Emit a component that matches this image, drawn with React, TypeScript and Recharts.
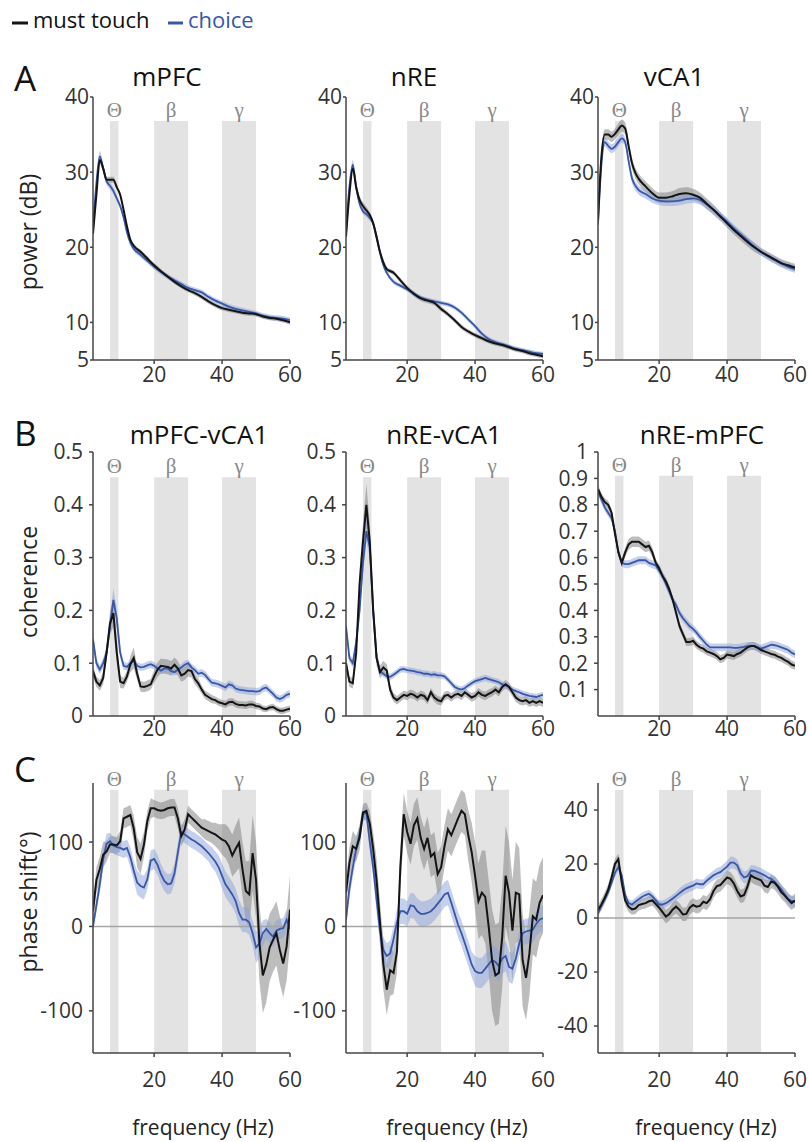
import React from 'react';
import {
  ComposedChart,
  Line,
  Area,
  XAxis,
  YAxis,
  ReferenceArea,
  ReferenceLine,
} from 'recharts';

const FONT = '"Open Sans", "Noto Sans", sans-serif';
const SERIF = '"Liberation Serif", "DejaVu Serif", serif';
const BLACK = '#141414';
const BLUE = '#3a56a6';
const AXIS = '#444';

// frequency grids (Hz)
const freqA = [
  2, 3, 4, 5, 6, 7, 8, 9, 10, 11,
  12, 13, 14, 16, 18, 20, 22, 24, 26, 28,
  30, 32, 34, 36, 38, 40, 42, 44, 46, 48,
  50, 52, 54, 56, 58, 60,
];
const freqB = [
  2, 3, 4, 5, 6, 7, 8, 9, 10, 11,
  12, 13, 14, 15, 16, 17, 18, 19, 20, 21,
  22, 23, 24, 25, 26, 27, 28, 29, 30, 31,
  32, 33, 34, 35, 36, 37, 38, 39, 40, 41,
  42, 43, 44, 45, 46, 47, 48, 49, 50, 51,
  52, 53, 54, 55, 56, 57, 58, 59, 60,
];

const xTicks = [20, 40, 60];
const bands = [
  { name: 'Θ', from: 7, to: 9.5 },
  { name: 'β', from: 20, to: 30 },
  { name: 'γ', from: 40, to: 50 },
];

// ---- A: power (dB)
const mpfcPowMust = [
  21.8, 27, 31.6, 30.5, 29, 29, 29, 28, 27, 25,
  22.8, 21, 20.2, 19.4, 18.5, 17.6, 16.8, 16.1, 15.4, 14.8,
  14.3, 13.9, 13.4, 12.8, 12.3, 11.9, 11.7, 11.5, 11.3, 11.2,
  11.1, 10.8, 10.6, 10.5, 10.3, 10.0,
];
const mpfcPowMustSem = [
  0.3, 0.4, 0.5, 0.5, 0.4, 0.4, 0.4, 0.3, 0.3, 0.3,
  0.3, 0.3, 0.3, 0.3, 0.3, 0.3, 0.3, 0.3, 0.3, 0.3,
  0.3, 0.3, 0.3, 0.3, 0.3, 0.3, 0.3, 0.3, 0.3, 0.3,
  0.3, 0.3, 0.3, 0.3, 0.3, 0.3,
];
const mpfcPowChoice = [
  22.5, 28.5, 32.1, 30.5, 28.8, 28.2, 27.5, 26.5, 25.5, 24,
  22, 20.6, 19.8, 19, 18.2, 17.4, 16.7, 16.1, 15.6, 15.1,
  14.6, 14.3, 14, 13.4, 12.9, 12.5, 12.1, 11.8, 11.6, 11.4,
  11.2, 10.9, 10.7, 10.6, 10.5, 10.3,
];
const mpfcPowChoiceSem = [
  0.4, 0.5, 0.7, 0.6, 0.5, 0.5, 0.4, 0.4, 0.4, 0.4,
  0.35, 0.35, 0.35, 0.35, 0.35, 0.35, 0.35, 0.35, 0.35, 0.35,
  0.35, 0.35, 0.35, 0.35, 0.35, 0.35, 0.35, 0.35, 0.35, 0.35,
  0.35, 0.35, 0.35, 0.35, 0.35, 0.35,
];

const nrePowMust = [
  21.4, 27, 30.5, 28, 26.3, 25.5, 24.9, 24.3, 23.2, 21.3,
  19.4, 18, 17.1, 16.6, 15.6, 14.6, 13.8, 13.2, 12.9, 12.6,
  11.8, 11.1, 10.3, 9.4, 8.8, 8.3, 7.9, 7.5, 7.2, 7.0,
  6.7, 6.4, 6.2, 5.9, 5.7, 5.5,
];
const nrePowMustSem = [
  0.3, 0.4, 0.5, 0.5, 0.5, 0.5, 0.5, 0.4, 0.4, 0.3,
  0.3, 0.3, 0.3, 0.3, 0.3, 0.3, 0.35, 0.35, 0.35, 0.35,
  0.35, 0.3, 0.3, 0.3, 0.3, 0.3, 0.3, 0.3, 0.3, 0.3,
  0.3, 0.3, 0.3, 0.3, 0.3, 0.3,
];
const nrePowChoice = [
  22, 28, 31, 28, 25.8, 24.8, 24.4, 23.9, 23.2, 21.5,
  19.3, 17.6, 16.6, 15.4, 14.9, 14.4, 13.8, 13.3, 13, 12.8,
  12.6, 12.4, 12, 11.3, 10.4, 9.5, 8.5, 7.8, 7.4, 7.1,
  6.8, 6.5, 6.3, 6.1, 5.9, 5.8,
];
const nrePowChoiceSem = [
  0.4, 0.5, 0.6, 0.5, 0.4, 0.4, 0.4, 0.4, 0.4, 0.35,
  0.35, 0.3, 0.3, 0.3, 0.3, 0.3, 0.3, 0.3, 0.3, 0.3,
  0.3, 0.3, 0.3, 0.3, 0.3, 0.3, 0.3, 0.3, 0.3, 0.3,
  0.3, 0.3, 0.3, 0.3, 0.3, 0.3,
];

const vca1PowMust = [
  23.6, 32, 35, 35, 34.7, 35.1, 35.7, 36.2, 35.8, 33.5,
  31.2, 29.9, 29.1, 28.1, 27.2, 26.6, 26.6, 26.8, 27.1, 27.2,
  27, 26.6, 25.8, 25, 24.1, 23.2, 22.3, 21.5, 20.7, 20,
  19.4, 18.9, 18.4, 17.9, 17.6, 17.3,
];
const vca1PowMustSem = [
  0.6, 0.7, 0.7, 0.7, 0.7, 0.7, 0.8, 0.8, 0.8, 0.7,
  0.7, 0.7, 0.7, 0.7, 0.7, 0.7, 0.7, 0.7, 0.8, 0.8,
  0.8, 0.7, 0.7, 0.7, 0.6, 0.6, 0.6, 0.6, 0.6, 0.6,
  0.5, 0.5, 0.5, 0.5, 0.5, 0.5,
];
const vca1PowChoice = [
  23, 31, 34, 33.5, 33.1, 33.4, 34, 34.5, 34, 31.5,
  29.2, 28.2, 27.6, 27.1, 26.5, 26.2, 26.1, 26.1, 26.2, 26.4,
  26.5, 26.3, 25.7, 25, 24.2, 23.4, 22.5, 21.7, 20.9, 20.1,
  19.4, 18.8, 18.3, 17.8, 17.4, 17.1,
];
const vca1PowChoiceSem = [
  0.5, 0.6, 0.6, 0.6, 0.6, 0.6, 0.6, 0.6, 0.6, 0.6,
  0.6, 0.6, 0.6, 0.6, 0.6, 0.6, 0.6, 0.6, 0.6, 0.6,
  0.6, 0.6, 0.6, 0.5, 0.5, 0.5, 0.5, 0.5, 0.5, 0.5,
  0.5, 0.5, 0.5, 0.5, 0.5, 0.5,
];

// ---- B: coherence
const mpfcVca1CohMust = [
  0.085, 0.065, 0.058, 0.072, 0.12, 0.175, 0.195, 0.12, 0.065, 0.062,
  0.075, 0.098, 0.11, 0.08, 0.056, 0.055, 0.057, 0.06, 0.075, 0.088,
  0.095, 0.094, 0.093, 0.09, 0.097, 0.09, 0.077, 0.08, 0.087, 0.085,
  0.07, 0.062, 0.05, 0.04, 0.036, 0.032, 0.03, 0.026, 0.024, 0.022,
  0.026, 0.027, 0.023, 0.021, 0.021, 0.02, 0.022, 0.022, 0.019, 0.018,
  0.014, 0.013, 0.016, 0.017, 0.013, 0.01, 0.01, 0.012, 0.014,
];
const mpfcVca1CohMustSem = [
  0.01, 0.01, 0.01, 0.012, 0.015, 0.022, 0.025, 0.02, 0.012, 0.01,
  0.01, 0.015, 0.02, 0.012, 0.01, 0.01, 0.01, 0.01, 0.012, 0.014,
  0.014, 0.014, 0.014, 0.014, 0.014, 0.014, 0.012, 0.012, 0.012, 0.012,
  0.01, 0.01, 0.008, 0.008, 0.008, 0.008, 0.007, 0.007, 0.007, 0.007,
  0.007, 0.007, 0.007, 0.007, 0.007, 0.007, 0.007, 0.007, 0.006, 0.006,
  0.006, 0.006, 0.006, 0.006, 0.006, 0.006, 0.006, 0.006, 0.006,
];
const mpfcVca1CohChoice = [
  0.145, 0.1, 0.088, 0.1, 0.12, 0.17, 0.22, 0.185, 0.12, 0.095,
  0.093, 0.1, 0.105, 0.095, 0.092, 0.093, 0.096, 0.098, 0.095, 0.09,
  0.086, 0.09, 0.09, 0.085, 0.083, 0.088, 0.092, 0.097, 0.1, 0.092,
  0.087, 0.08, 0.082, 0.078, 0.07, 0.063, 0.062, 0.06, 0.057, 0.054,
  0.06, 0.058, 0.052, 0.05, 0.049, 0.048, 0.047, 0.047, 0.046, 0.047,
  0.052, 0.054, 0.048, 0.042, 0.035, 0.032, 0.035, 0.04, 0.042,
];
const mpfcVca1CohChoiceSem = [
  0.012, 0.01, 0.008, 0.01, 0.012, 0.018, 0.022, 0.018, 0.01, 0.008,
  0.007, 0.007, 0.007, 0.007, 0.007, 0.007, 0.007, 0.007, 0.007, 0.007,
  0.007, 0.007, 0.007, 0.007, 0.007, 0.007, 0.007, 0.007, 0.007, 0.007,
  0.007, 0.007, 0.007, 0.007, 0.007, 0.007, 0.007, 0.007, 0.007, 0.007,
  0.007, 0.007, 0.007, 0.007, 0.007, 0.007, 0.007, 0.007, 0.007, 0.007,
  0.007, 0.007, 0.007, 0.007, 0.007, 0.007, 0.007, 0.007, 0.007,
];

const nreVca1CohMust = [
  0.1, 0.065, 0.062, 0.12, 0.25, 0.33, 0.4, 0.33, 0.2, 0.11,
  0.083, 0.092, 0.086, 0.05, 0.035, 0.03, 0.035, 0.04, 0.038, 0.042,
  0.04, 0.035, 0.04, 0.038, 0.03, 0.045, 0.035, 0.03, 0.028, 0.038,
  0.04, 0.035, 0.04, 0.042, 0.038, 0.045, 0.04, 0.035, 0.038, 0.045,
  0.04, 0.038, 0.042, 0.045, 0.05, 0.045, 0.055, 0.06, 0.055, 0.045,
  0.035, 0.03, 0.028, 0.03, 0.025, 0.028, 0.025, 0.028, 0.025,
];
const nreVca1CohMustSem = [
  0.012, 0.01, 0.01, 0.015, 0.025, 0.035, 0.04, 0.035, 0.02, 0.015,
  0.012, 0.012, 0.012, 0.01, 0.008, 0.008, 0.008, 0.008, 0.008, 0.008,
  0.008, 0.008, 0.008, 0.008, 0.008, 0.008, 0.008, 0.008, 0.008, 0.008,
  0.008, 0.008, 0.008, 0.008, 0.008, 0.008, 0.008, 0.008, 0.008, 0.008,
  0.008, 0.008, 0.008, 0.008, 0.008, 0.008, 0.008, 0.008, 0.008, 0.008,
  0.008, 0.008, 0.008, 0.008, 0.008, 0.008, 0.008, 0.008, 0.008,
];
const nreVca1CohChoice = [
  0.17, 0.11, 0.1, 0.14, 0.2, 0.29, 0.35, 0.32, 0.2, 0.11,
  0.085, 0.08, 0.075, 0.074, 0.078, 0.083, 0.088, 0.089, 0.087, 0.086,
  0.085, 0.083, 0.082, 0.08, 0.08, 0.078, 0.079, 0.077, 0.077, 0.075,
  0.069, 0.062, 0.055, 0.052, 0.05, 0.053, 0.058, 0.062, 0.066, 0.068,
  0.07, 0.072, 0.07, 0.068, 0.066, 0.064, 0.06, 0.058, 0.055, 0.05,
  0.047, 0.045, 0.042, 0.04, 0.038, 0.037, 0.036, 0.038, 0.04,
];
const nreVca1CohChoiceSem = [
  0.01, 0.008, 0.008, 0.01, 0.015, 0.02, 0.02, 0.02, 0.015, 0.008,
  0.006, 0.006, 0.006, 0.006, 0.006, 0.006, 0.006, 0.006, 0.006, 0.006,
  0.006, 0.006, 0.006, 0.006, 0.006, 0.006, 0.006, 0.006, 0.006, 0.006,
  0.006, 0.006, 0.006, 0.006, 0.006, 0.006, 0.006, 0.006, 0.006, 0.006,
  0.006, 0.006, 0.006, 0.006, 0.006, 0.006, 0.006, 0.006, 0.006, 0.006,
  0.006, 0.006, 0.006, 0.006, 0.006, 0.006, 0.006, 0.006, 0.006,
];

const nreMpfcCohMust = [
  0.86, 0.83, 0.81, 0.8, 0.77, 0.69, 0.62, 0.58, 0.62, 0.65,
  0.66, 0.66, 0.66, 0.65, 0.64, 0.645, 0.62, 0.58, 0.56, 0.53,
  0.51, 0.48, 0.44, 0.39, 0.34, 0.31, 0.28, 0.28, 0.285, 0.27,
  0.26, 0.255, 0.245, 0.24, 0.235, 0.227, 0.215, 0.22, 0.233, 0.23,
  0.227, 0.235, 0.24, 0.25, 0.26, 0.265, 0.265, 0.258, 0.25, 0.245,
  0.24, 0.235, 0.232, 0.225, 0.22, 0.212, 0.205, 0.195, 0.19,
];
const nreMpfcCohMustSem = [
  0.015, 0.015, 0.015, 0.015, 0.015, 0.015, 0.015, 0.015, 0.018, 0.02,
  0.02, 0.02, 0.02, 0.02, 0.02, 0.02, 0.018, 0.015, 0.015, 0.015,
  0.015, 0.015, 0.015, 0.015, 0.015, 0.015, 0.015, 0.015, 0.015, 0.015,
  0.015, 0.015, 0.015, 0.015, 0.015, 0.015, 0.015, 0.015, 0.015, 0.015,
  0.015, 0.015, 0.015, 0.015, 0.015, 0.015, 0.015, 0.015, 0.015, 0.015,
  0.015, 0.015, 0.015, 0.015, 0.015, 0.015, 0.015, 0.015, 0.015,
];
const nreMpfcCohChoice = [
  0.85, 0.82, 0.79, 0.77, 0.75, 0.7, 0.62, 0.58, 0.575, 0.575,
  0.58, 0.585, 0.59, 0.59, 0.59, 0.58, 0.575, 0.57, 0.55, 0.53,
  0.5, 0.47, 0.44, 0.42, 0.39, 0.37, 0.355, 0.34, 0.33, 0.316,
  0.3, 0.285, 0.27, 0.26, 0.26, 0.26, 0.26, 0.26, 0.26, 0.26,
  0.258, 0.258, 0.26, 0.262, 0.265, 0.265, 0.265, 0.26, 0.255, 0.26,
  0.265, 0.27, 0.268, 0.265, 0.26, 0.255, 0.25, 0.24, 0.233,
];
const nreMpfcCohChoiceSem = [
  0.015, 0.015, 0.015, 0.015, 0.015, 0.015, 0.015, 0.015, 0.015, 0.015,
  0.015, 0.015, 0.015, 0.015, 0.015, 0.015, 0.015, 0.015, 0.015, 0.015,
  0.015, 0.015, 0.015, 0.015, 0.015, 0.015, 0.015, 0.015, 0.015, 0.015,
  0.015, 0.015, 0.015, 0.015, 0.015, 0.015, 0.015, 0.015, 0.015, 0.015,
  0.015, 0.015, 0.015, 0.015, 0.015, 0.015, 0.015, 0.015, 0.015, 0.015,
  0.015, 0.015, 0.015, 0.015, 0.015, 0.015, 0.015, 0.015, 0.015,
];

// ---- C: phase shift (deg)
const mpfcVca1PhMust = [
  18, 55, 68, 85, 89, 97, 97, 96, 101, 128,
  130, 132, 116, 88, 80, 97, 125, 140, 140, 138,
  137, 138, 140, 141, 141, 128, 107, 115, 133, 129,
  125, 121, 117, 115, 113, 111, 109, 106, 103, 101,
  95, 84, 92, 99, 68, 42, 38, 87, 55, -20,
  -58, -45, -25, -16, -8, -28, -44, -24, 20,
];
const mpfcVca1PhMustSem = [
  12, 15, 15, 15, 12, 10, 10, 10, 12, 12,
  12, 12, 15, 18, 18, 15, 12, 12, 10, 10,
  10, 10, 10, 10, 10, 12, 12, 12, 10, 10,
  10, 10, 10, 12, 12, 12, 14, 15, 18, 20,
  22, 25, 28, 30, 32, 35, 40, 45, 45, 45,
  45, 45, 40, 38, 38, 40, 40, 40, 40,
];
const mpfcVca1PhChoice = [
  0, 25, 50, 80, 98, 101, 96, 94, 93, 91,
  93, 82, 66, 52, 48, 46, 56, 78, 80, 73,
  62, 54, 50, 51, 63, 88, 112, 109, 106, 103,
  101, 98, 95, 91, 87, 82, 77, 70, 60, 50,
  44, 38, 30, 16, 8, 8, 5, -8, -25, -20,
  -8, -3, -8, -12, -5, -3, -2, 8, -3,
];
const mpfcVca1PhChoiceSem = [
  5, 8, 10, 12, 12, 10, 10, 10, 10, 10,
  10, 12, 12, 14, 14, 14, 12, 12, 12, 12,
  12, 12, 12, 12, 12, 12, 10, 10, 10, 10,
  10, 10, 10, 10, 10, 12, 12, 14, 15, 15,
  15, 15, 15, 15, 15, 15, 15, 15, 18, 18,
  15, 12, 12, 12, 12, 12, 12, 12, 12,
];

const nreVca1PhMust = [
  40, 75, 95, 92, 105, 135, 137, 122, 92, 55,
  5, -45, -75, -52, -55, -30, 70, 133, 112, 98,
  120, 128, 105, 92, 105, 83, 87, 62, 70, 95,
  115, 108, 118, 128, 137, 133, 108, 88, 60, 30,
  40, 35, 0, -40, -58, -55, -12, 60, 40, -5,
  40, 38, -40, -61, -32, 12, 8, 28, 37,
];
const nreVca1PhMustSem = [
  15, 18, 18, 15, 15, 10, 10, 15, 20, 25,
  25, 30, 30, 30, 25, 25, 25, 25, 25, 25,
  25, 25, 25, 25, 25, 25, 25, 25, 25, 25,
  25, 25, 25, 25, 25, 25, 30, 35, 40, 45,
  50, 55, 55, 60, 60, 60, 60, 60, 60, 60,
  60, 55, 55, 50, 50, 45, 45, 45, 45,
];
const nreVca1PhChoice = [
  8, 45, 70, 92, 110, 133, 135, 100, 70, 32,
  -5, -28, -35, -32, -15, 5, 18, 18, 15, 25,
  24, 18, 15, 15, 16, 18, 22, 27, 32, 38,
  40, 28, 15, 2, -8, -20, -32, -45, -53, -55,
  -55, -50, -45, -40, -42, -47, -38, -35, -48, -50,
  -38, -20, -8, -6, -5, -4, 3, 8, 10,
];
const nreVca1PhChoiceSem = [
  8, 12, 12, 12, 10, 8, 8, 10, 12, 15,
  15, 15, 15, 15, 15, 15, 15, 15, 15, 15,
  15, 15, 15, 15, 15, 15, 15, 15, 15, 15,
  15, 15, 15, 15, 15, 15, 15, 15, 18, 18,
  18, 18, 18, 18, 18, 18, 18, 18, 18, 18,
  15, 15, 15, 15, 15, 15, 15, 15, 15,
];

const nreMpfcPhMust = [
  3, 5, 7.5, 10.5, 15, 20, 21.8, 13, 6.5, 4.2,
  3.2, 3.5, 4.8, 5.2, 5.5, 6.2, 6.5, 5.2, 3.8, 2.2,
  0.5, 1.5, 3.2, 4.2, 3, 1.3, 1.5, 3.8, 4.8, 4.2,
  4.5, 6, 5.5, 7, 10, 11.8, 12.2, 13.6, 15, 14.5,
  12.8, 10, 8, 8.5, 11.6, 15.8, 15, 14.5, 14, 12,
  11.5, 13.5, 13, 11.5, 9.5, 8.3, 6.8, 5.5, 6.5,
];
const nreMpfcPhMustSem = [
  1.5, 2, 2, 2, 2, 2, 2, 2, 2, 2,
  2, 2, 2, 2, 2, 2, 2, 2, 2.5, 2.5,
  2.5, 2.5, 2.5, 2.5, 2.5, 2.5, 2.5, 2.5, 2.5, 2.5,
  2.5, 2.5, 2.5, 2.5, 2.5, 2.5, 2.5, 2.5, 2.5, 2.5,
  2.5, 2.5, 2.5, 2.5, 2.5, 2.5, 2.5, 2.5, 2.5, 2.5,
  2.5, 2.5, 2.5, 2.5, 2.5, 2.5, 2.5, 2.5, 2.5,
];
const nreMpfcPhChoice = [
  1.7, 4.5, 7, 9.5, 13, 16.8, 18.8, 15.8, 8.5, 5.5,
  5, 6, 7, 7.9, 8.5, 9, 8, 6.5, 5, 5,
  5.5, 6.3, 7.2, 8.2, 9.2, 10.2, 11, 11.5, 12, 12.8,
  12.5, 12.5, 13.8, 14.8, 15.8, 16.5, 17, 18, 19, 20.5,
  20.5, 19.5, 16.5, 15, 15.5, 17.5, 17.5, 17, 16.5, 15.8,
  15, 14.5, 13.5, 12, 10.5, 8.7, 7, 6.3, 6,
];
const nreMpfcPhChoiceSem = [
  1.5, 1.5, 1.5, 1.5, 1.5, 1.5, 1.5, 1.5, 1.5, 1.5,
  1.5, 1.5, 1.5, 1.5, 1.5, 1.5, 1.5, 1.5, 1.5, 1.5,
  1.5, 1.5, 1.5, 1.5, 1.8, 1.8, 1.8, 1.8, 1.8, 1.8,
  1.8, 1.8, 1.8, 1.8, 1.8, 2, 2, 2, 2.2, 2.2,
  2.2, 2.2, 2.2, 2.2, 2.2, 2, 2, 2, 2, 2,
  2, 2, 2, 2, 2, 2, 2, 2, 2,
];

const PLOT_W = 197;
const Y_W = 60;
const M_TOP = 30;
const M_RIGHT = 18;
const X_H = 50;

type PanelSpec = {
  left: number;
  top: number;
  plotH: number;
  freq: number[];
  must: number[];
  mustSem: number[];
  choice: number[];
  choiceSem: number[];
  yDomain: [number, number];
  yTicks: number[];
  bandTop: number;
  zeroLine?: boolean;
  smooth?: boolean;
  fmt: (v: number) => string;
  yTickSize: number;
  yTickMargin: number;
  xTickMargin: number;
};

const fmtInt = (v: number) => String(v);
const fmtCoh = (v: number) => (v === 0 ? '0' : v === 1 ? '1' : v.toFixed(1));

function Panel(p: PanelSpec) {
  const data = p.freq.map((f, i) => ({
    f,
    must: p.must[i],
    choice: p.choice[i],
    mustBand: [p.must[i] - p.mustSem[i], p.must[i] + p.mustSem[i]],
    choiceBand: [p.choice[i] - p.choiceSem[i], p.choice[i] + p.choiceSem[i]],
  }));
  const curve = p.smooth ? 'monotone' : 'linear';
  const tickStyle = { fontSize: 21, fill: '#333', fontFamily: FONT };
  return (
    <div style={{ position: 'absolute', left: p.left - Y_W, top: p.top - M_TOP }}>
      <ComposedChart
        width={Y_W + PLOT_W + M_RIGHT}
        height={M_TOP + p.plotH + X_H}
        data={data}
        margin={{ top: M_TOP, right: M_RIGHT, bottom: 0, left: 0 }}
      >
        <XAxis
          dataKey="f"
          type="number"
          domain={[2, 60]}
          ticks={xTicks}
          interval={0}
          allowDataOverflow
          height={X_H}
          stroke={AXIS}
          strokeWidth={1.5}
          tickSize={4}
          tickMargin={p.xTickMargin}
          tick={tickStyle}
        />
        <YAxis
          type="number"
          domain={p.yDomain}
          ticks={p.yTicks}
          interval={0}
          allowDataOverflow
          width={Y_W}
          stroke={AXIS}
          strokeWidth={1.5}
          tickSize={p.yTickSize}
          tickMargin={p.yTickMargin}
          tick={tickStyle}
          tickFormatter={p.fmt}
        />
        {bands.map((b) => (
          <ReferenceArea
            key={b.name}
            x1={b.from}
            x2={b.to}
            y1={p.yDomain[0]}
            y2={p.bandTop}
            fill="#e3e3e3"
            fillOpacity={1}
            stroke="none"
            label={{
              value: b.name,
              position: 'top',
              offset: 4,
              fill: '#888',
              fontSize: 21,
              fontFamily: SERIF,
            }}
          />
        ))}
        {p.zeroLine && <ReferenceLine y={0} stroke="#a5a5a5" strokeWidth={1.5} />}
        <Area
          dataKey="mustBand"
          type={curve}
          stroke="none"
          fill="#7c7c7c"
          fillOpacity={0.5}
          isAnimationActive={false}
        />
        <Area
          dataKey="choiceBand"
          type={curve}
          stroke="none"
          fill="#8aa2da"
          fillOpacity={0.5}
          isAnimationActive={false}
        />
        <Line
          dataKey="choice"
          type={curve}
          stroke={BLUE}
          strokeWidth={1.8}
          dot={false}
          isAnimationActive={false}
        />
        <Line
          dataKey="must"
          type={curve}
          stroke={BLACK}
          strokeWidth={2}
          dot={false}
          isAnimationActive={false}
        />
      </ComposedChart>
    </div>
  );
}

const lefts = [93, 346, 598];
const rowA = { top: 97, plotH: 263, yTickSize: 3, yTickMargin: 1, xTickMargin: 3 };
const rowB = { top: 452, plotH: 264, yTickSize: 4, yTickMargin: 6, xTickMargin: 1 };
const rowC = { top: 783, plotH: 270, yTickSize: 4, yTickMargin: 6, xTickMargin: 15 };

const powTicks = [5, 10, 20, 30, 40];
const cohTicks = [0, 0.1, 0.2, 0.3, 0.4, 0.5];
const cohTicksWide = [0.1, 0.2, 0.3, 0.4, 0.5, 0.6, 0.7, 0.8, 0.9, 1];
const phTicks = [-100, 0, 100];
const phTicksNarrow = [-40, -20, 0, 20, 40];

const panels: PanelSpec[] = [
  { ...rowA, left: lefts[0], freq: freqA, must: mpfcPowMust, mustSem: mpfcPowMustSem, choice: mpfcPowChoice, choiceSem: mpfcPowChoiceSem, yDomain: [5, 40], yTicks: powTicks, bandTop: 36.8, smooth: true, fmt: fmtInt },
  { ...rowA, left: lefts[1], freq: freqA, must: nrePowMust, mustSem: nrePowMustSem, choice: nrePowChoice, choiceSem: nrePowChoiceSem, yDomain: [5, 40], yTicks: powTicks, bandTop: 36.8, smooth: true, fmt: fmtInt },
  { ...rowA, left: lefts[2], freq: freqA, must: vca1PowMust, mustSem: vca1PowMustSem, choice: vca1PowChoice, choiceSem: vca1PowChoiceSem, yDomain: [5, 40], yTicks: powTicks, bandTop: 36.8, smooth: true, fmt: fmtInt },
  { ...rowB, left: lefts[0], freq: freqB, must: mpfcVca1CohMust, mustSem: mpfcVca1CohMustSem, choice: mpfcVca1CohChoice, choiceSem: mpfcVca1CohChoiceSem, yDomain: [0, 0.5], yTicks: cohTicks, bandTop: 0.452, fmt: fmtCoh },
  { ...rowB, left: lefts[1], freq: freqB, must: nreVca1CohMust, mustSem: nreVca1CohMustSem, choice: nreVca1CohChoice, choiceSem: nreVca1CohChoiceSem, yDomain: [0, 0.5], yTicks: cohTicks, bandTop: 0.452, fmt: fmtCoh },
  { ...rowB, left: lefts[2], freq: freqB, must: nreMpfcCohMust, mustSem: nreMpfcCohMustSem, choice: nreMpfcCohChoice, choiceSem: nreMpfcCohChoiceSem, yDomain: [0, 1], yTicks: cohTicksWide, bandTop: 0.91, fmt: fmtCoh },
  { ...rowC, left: lefts[0], freq: freqB, must: mpfcVca1PhMust, mustSem: mpfcVca1PhMustSem, choice: mpfcVca1PhChoice, choiceSem: mpfcVca1PhChoiceSem, yDomain: [-150, 170], yTicks: phTicks, bandTop: 162, zeroLine: true, fmt: fmtInt },
  { ...rowC, left: lefts[1], freq: freqB, must: nreVca1PhMust, mustSem: nreVca1PhMustSem, choice: nreVca1PhChoice, choiceSem: nreVca1PhChoiceSem, yDomain: [-150, 170], yTicks: phTicks, bandTop: 162, zeroLine: true, fmt: fmtInt },
  { ...rowC, left: lefts[2], freq: freqB, must: nreMpfcPhMust, mustSem: nreMpfcPhMustSem, choice: nreMpfcPhChoice, choiceSem: nreMpfcPhChoiceSem, yDomain: [-50, 50], yTicks: phTicksNarrow, bandTop: 47.4, zeroLine: true, fmt: fmtInt },
];

const titles = [
  { text: 'mPFC', x: 167, y: 86 },
  { text: 'nRE', x: 414, y: 86 },
  { text: 'vCA1', x: 674, y: 86 },
  { text: 'mPFC-vCA1', x: 199, y: 444 },
  { text: 'nRE-vCA1', x: 444, y: 444 },
  { text: 'nRE-mPFC', x: 702, y: 444 },
];
const rowLetters = [
  { text: 'A', y: 91 },
  { text: 'B', y: 446 },
  { text: 'C', y: 782 },
];
const yLabels = [
  { text: 'power (dB)', y: 232 },
  { text: 'coherence', y: 582 },
  { text: 'phase shift(°)', y: 902 },
];
const freqLabelX = [203, 457, 706];

export default function App() {
  return (
    <div
      style={{
        position: 'absolute',
        left: 0,
        top: 0,
        width: 809,
        height: 1142,
        background: '#fff',
        overflow: 'hidden',
      }}
    >
      {panels.map((p, i) => (
        <Panel key={i} {...p} />
      ))}
      <svg
        width={809}
        height={1142}
        style={{ position: 'absolute', left: 0, top: 0, pointerEvents: 'none' }}
        fontFamily={FONT}
      >
        {/* legend */}
        <line x1={12} x2={28} y1={23} y2={23} stroke={BLACK} strokeWidth={3} />
        <text x={33} y={28} fontSize={22} fill="#111">must touch</text>
        <line x1={168} x2={183} y1={23} y2={23} stroke={BLUE} strokeWidth={3} />
        <text x={188} y={28} fontSize={22} fill={BLUE}>choice</text>

        {rowLetters.map((l) => (
          <text key={l.text} x={14} y={l.y} fontSize={35} fill="#111">
            {l.text}
          </text>
        ))}
        {titles.map((t) => (
          <text key={t.text} x={t.x} y={t.y} fontSize={26} fill="#111" textAnchor="middle">
            {t.text}
          </text>
        ))}
        {yLabels.map((l) => (
          <text
            key={l.text}
            x={0}
            y={0}
            fontSize={23}
            fill="#222"
            textAnchor="middle"
            transform={`translate(37 ${l.y}) rotate(-90)`}
          >
            {l.text}
          </text>
        ))}
        {freqLabelX.map((x) => (
          <text key={x} x={x} y={1135} fontSize={21} fill="#222" textAnchor="middle">
            frequency (Hz)
          </text>
        ))}
      </svg>
    </div>
  );
}
